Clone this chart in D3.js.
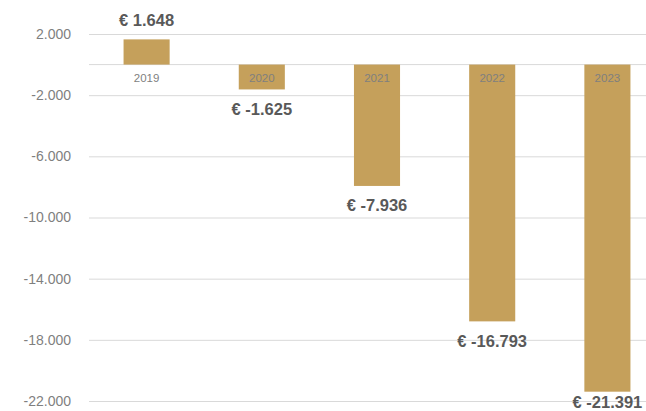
<!DOCTYPE html>
<html>
<head>
<meta charset="utf-8">
<script src="https://cdn.jsdelivr.net/npm/d3@7"></script>
<style>
  body { margin: 0; background: #fff; }
  svg { display: block; font-family: "Liberation Sans", Arial, sans-serif; }
</style>
</head>
<body>
<script>
// chart data
const years = ["2019", "2020", "2021", "2022", "2023"];
const results = [1648, -1625, -7936, -16793, -21391];
const yTicks = [2000, -2000, -6000, -10000, -14000, -18000, -22000];

const width = 646, height = 411;

const svg = d3.select("body").append("svg")
    .attr("width", width)
    .attr("height", height);

const x = d3.scaleBand()
    .domain(years)
    .range([89, 665])
    .paddingInner(0.6)
    .paddingOuter(0.3);

const y = d3.scaleLinear()
    .domain([-22000, 2000])
    .range([401, 34]);

const fmt = v => d3.format(",")(v).replace(/,/g, ".").replace("−", "-");

// gridlines + tick labels
const yAxis = d3.axisLeft(y)
    .tickValues(yTicks)
    .tickSize(-(width - 89))
    .tickPadding(18)
    .tickFormat(fmt);

const gy = svg.append("g")
    .attr("transform", "translate(89,0)")
    .call(yAxis);
gy.select(".domain").remove();
gy.selectAll(".tick line").attr("stroke", "#d9d9d9").attr("stroke-width", 1);
gy.selectAll(".tick text")
    .attr("fill", "#7f7f7f")
    .style("font-size", "14px")
    .attr("x", -18);

// zero line
svg.append("line")
    .attr("x1", 89).attr("x2", width)
    .attr("y1", y(0)).attr("y2", y(0))
    .attr("stroke", "#d9d9d9");

// bars
svg.selectAll("rect.bar")
    .data(results)
    .join("rect")
    .attr("class", "bar")
    .attr("x", (d, i) => x(years[i]))
    .attr("width", x.bandwidth())
    .attr("y", d => y(Math.max(0, d)))
    .attr("height", d => Math.abs(y(d) - y(0)))
    .attr("fill", "#c5a05b");

// year labels (just under the zero line)
svg.selectAll("text.year")
    .data(years)
    .join("text")
    .attr("class", "year")
    .attr("x", d => x(d) + x.bandwidth() / 2)
    .attr("y", y(0) + 13)
    .attr("dy", "0.35em")
    .attr("text-anchor", "middle")
    .attr("fill", "#7f7f7f")
    .style("font-size", "11.5px")
    .text(d => d);

// value labels (pushed up at the bottom edge so they stay visible)
svg.selectAll("text.val")
    .data(results)
    .join("text")
    .attr("class", "val")
    .attr("x", (d, i) => x(years[i]) + x.bandwidth() / 2)
    .attr("y", d => d >= 0 ? y(d) - 19.5 : Math.min(y(d) + 19.5, height - 9))
    .attr("dy", "0.35em")
    .attr("text-anchor", "middle")
    .attr("fill", "#595959")
    .style("font-size", "16.5px")
    .style("font-weight", "bold")
    .text(d => "€ " + fmt(d));
</script>
</body>
</html>
